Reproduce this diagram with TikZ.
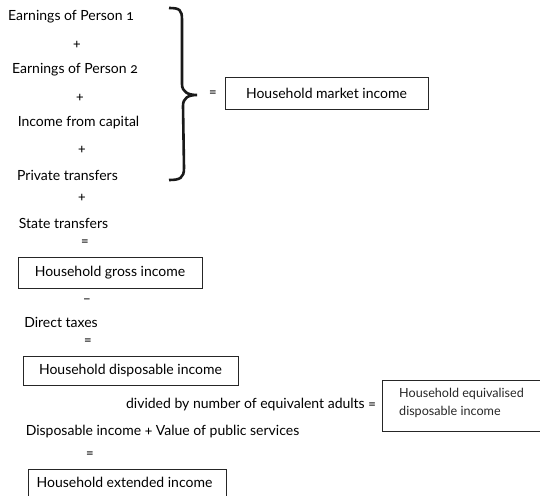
\documentclass[tikz,border=0pt]{standalone}
\usepackage{fontspec}
\setmainfont[Numbers=OldStyle]{Lato}
\begin{document}
\begin{tikzpicture}[x=1pt,y=-1pt,
  lbl/.style={inner sep=0pt,font=\fontsize{14}{16}\selectfont,text=black},
  box/.style={draw=black!85,line width=0.8pt,inner sep=0pt,font=\fontsize{14}{16}\selectfont,text=black}]
\useasboundingbox (0,0) rectangle (540,495);
\node[lbl] (e1) at (71,17) {Earnings of Person 1};
\node[lbl] (p1) at (77,45) {+};
\node[lbl] (e2) at (75,70) {Earnings of Person 2};
\node[lbl] (p2) at (80,98) {+};
\node[lbl] (ic) at (78.5,123) {Income from capital};
\node[lbl] (p3) at (82,150) {+};
\node[lbl] (pt) at (67.5,175) {Private transfers};
\node[lbl] (p4) at (82,198) {+};
\node[lbl] (st) at (63.5,223) {State transfers};
\node[lbl] (q1) at (85,243) {=};
\node[box,minimum width=184pt,minimum height=31pt] (gross) at (110,272.5) {Household gross income};
\node[lbl] (mi) at (87,301) {--};
\node[lbl] (dt) at (61,322) {Direct taxes};
\node[lbl] (q2) at (88,342) {=};
\node[box,minimum width=215pt,minimum height=29pt] (disp) at (130.5,370.5) {Household disposable income};
\node[lbl] (div) at (251,405) {divided by number of equivalent adults =};
\node[box,minimum width=162pt,minimum height=51pt] (equ) at (463,405.5) {};
\node[lbl,anchor=west,align=left,font=\fontsize{12.6}{18.5}\selectfont,text=black!85] (equt) at (399,403) {Household equivalised\\disposable income};
\node[lbl] (dv) at (162.5,432) {Disposable income + Value of public services};
\node[lbl] (q3) at (90,455) {=};
\node[box,minimum width=198pt,minimum height=30pt] (ext) at (127,484) {};
\node[lbl] (extt) at (124.5,482) {Household extended income};
\node[lbl] (q0) at (213,94) {=};
\node[box,minimum width=203pt,minimum height=32pt] (mkt) at (326.5,93) {Household market income};
\coordinate (bt) at (169,8);
\coordinate (bb) at (169,180);
\coordinate (tip) at (197,95);
\draw[line width=2.6pt,black!90] (bt) .. controls (180,8) and (182,10) .. (182,20) -- (182,84)
  .. controls (182,92) and (188,95) .. (tip)
  .. controls (188,95) and (183,98) .. (183,106) -- (184,168)
  .. controls (184,178) and (180,180) .. (bb);
\end{tikzpicture}
\end{document}
